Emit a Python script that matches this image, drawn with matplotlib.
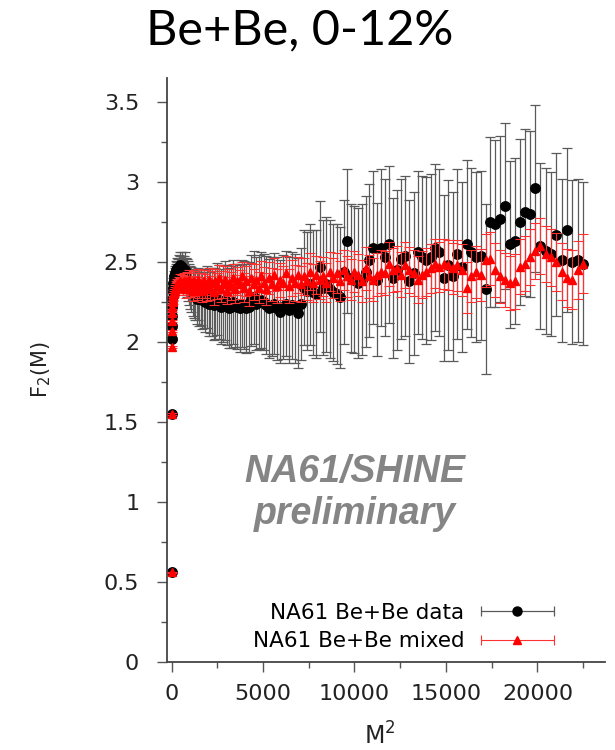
import numpy as np
import matplotlib
matplotlib.use("Agg")
import matplotlib.pyplot as plt
from matplotlib.ticker import MultipleLocator, FormatStrFormatter
from matplotlib.container import ErrorbarContainer
from matplotlib.lines import Line2D
from matplotlib.collections import LineCollection
from matplotlib.legend_handler import HandlerErrorbar

# Mass bins M = 1..150, plotted against M^2
m_bins = np.arange(1, 151)
m_squared = m_bins ** 2

# NA61 Be+Be data, F2(M)
data_f2 = [
    0.56, 1.55, 2.02, 2.10, 2.16, 2.22, 2.27, 2.31, 2.34, 2.37,
    2.39, 2.41, 2.42, 2.43, 2.44, 2.45, 2.44, 2.46, 2.45, 2.47,
    2.46, 2.48, 2.45, 2.47, 2.44, 2.43, 2.45, 2.41, 2.40, 2.38,
    2.36, 2.34, 2.33, 2.31, 2.30, 2.29, 2.27, 2.30, 2.27, 2.28,
    2.26, 2.27, 2.25, 2.28, 2.24, 2.26, 2.25, 2.23, 2.24, 2.27,
    2.25, 2.22, 2.24, 2.26, 2.23, 2.21, 2.22, 2.25, 2.23, 2.22,
    2.21, 2.24, 2.23, 2.21, 2.22, 2.26, 2.28, 2.24, 2.25, 2.26,
    2.25, 2.23, 2.21, 2.22, 2.24, 2.21, 2.19, 2.22, 2.24, 2.20,
    2.23, 2.21, 2.18, 2.24, 2.34, 2.32, 2.36, 2.31, 2.30, 2.47,
    2.34, 2.36, 2.33, 2.31, 2.30, 2.28, 2.44, 2.63, 2.40, 2.39,
    2.37, 2.39, 2.44, 2.51, 2.59, 2.39, 2.59, 2.53, 2.61, 2.40,
    2.45, 2.52, 2.54, 2.38, 2.43, 2.56, 2.53, 2.51, 2.53, 2.59,
    2.56, 2.40, 2.48, 2.41, 2.55, 2.47, 2.61, 2.56, 2.53, 2.54,
    2.33, 2.75, 2.74, 2.77, 2.85, 2.61, 2.63, 2.75, 2.81, 2.80,
    2.96, 2.60, 2.57, 2.55, 2.67, 2.51, 2.70, 2.50, 2.51, 2.49,
]
data_err = [
    0.005, 0.008, 0.010, 0.012, 0.015, 0.018, 0.020, 0.022, 0.025, 0.028,
    0.030, 0.035, 0.040, 0.045, 0.050, 0.055, 0.060, 0.065, 0.070, 0.075,
    0.080, 0.085, 0.090, 0.095, 0.100, 0.105, 0.110, 0.115, 0.120, 0.125,
    0.130, 0.135, 0.140, 0.145, 0.150, 0.155, 0.160, 0.165, 0.170, 0.175,
    0.180, 0.185, 0.190, 0.195, 0.200, 0.205, 0.210, 0.215, 0.220, 0.225,
    0.230, 0.235, 0.240, 0.245, 0.250, 0.250, 0.255, 0.260, 0.260, 0.265,
    0.270, 0.270, 0.275, 0.280, 0.280, 0.285, 0.290, 0.290, 0.295, 0.300,
    0.300, 0.305, 0.310, 0.310, 0.315, 0.320, 0.320, 0.325, 0.330, 0.330,
    0.335, 0.340, 0.345, 0.350, 0.360, 0.370, 0.380, 0.390, 0.400, 0.410,
    0.420, 0.420, 0.430, 0.430, 0.440, 0.440, 0.450, 0.450, 0.460, 0.460,
    0.470, 0.470, 0.470, 0.480, 0.480, 0.480, 0.490, 0.490, 0.490, 0.500,
    0.500, 0.500, 0.500, 0.510, 0.510, 0.510, 0.510, 0.520, 0.520, 0.520,
    0.520, 0.520, 0.530, 0.530, 0.530, 0.530, 0.530, 0.530, 0.530, 0.530,
    0.530, 0.530, 0.520, 0.520, 0.520, 0.520, 0.520, 0.520, 0.520, 0.520,
    0.520, 0.520, 0.520, 0.510, 0.510, 0.510, 0.510, 0.510, 0.510, 0.510,
]

# NA61 Be+Be mixed events, F2(M)
mixed_f2 = [
    0.56, 1.55, 1.97, 2.07, 2.13, 2.18, 2.22, 2.25, 2.27, 2.29,
    2.30, 2.31, 2.32, 2.33, 2.34, 2.35, 2.34, 2.36, 2.35, 2.37,
    2.36, 2.38, 2.35, 2.37, 2.34, 2.38, 2.36, 2.33, 2.38, 2.35,
    2.39, 2.34, 2.37, 2.32, 2.38, 2.35, 2.33, 2.39, 2.34, 2.36,
    2.32, 2.38, 2.35, 2.33, 2.39, 2.34, 2.37, 2.31, 2.38, 2.35,
    2.40, 2.33, 2.36, 2.39, 2.32, 2.37, 2.35, 2.40, 2.33, 2.38,
    2.36, 2.41, 2.34, 2.38, 2.32, 2.40, 2.36, 2.39, 2.34, 2.41,
    2.37, 2.33, 2.40, 2.36, 2.42, 2.35, 2.39, 2.37, 2.43, 2.35,
    2.40, 2.37, 2.42, 2.36, 2.41, 2.38, 2.44, 2.37, 2.42, 2.39,
    2.41, 2.37, 2.44, 2.40, 2.43, 2.38, 2.45, 2.41, 2.39, 2.44,
    2.42, 2.38, 2.46, 2.41, 2.39, 2.42, 2.44, 2.43, 2.49, 2.45,
    2.46, 2.42, 2.48, 2.45, 2.43, 2.39, 2.42, 2.44, 2.46, 2.49,
    2.47, 2.49, 2.48, 2.46, 2.48, 2.45, 2.34, 2.41, 2.44, 2.42,
    2.51, 2.52, 2.45, 2.41, 2.39, 2.37, 2.38, 2.47, 2.49, 2.53,
    2.57, 2.60, 2.55, 2.53, 2.50, 2.44, 2.40, 2.39, 2.45, 2.49,
]
mixed_err = [
    0.003, 0.004, 0.005, 0.006, 0.008, 0.010, 0.012, 0.014, 0.016, 0.018,
    0.020, 0.022, 0.024, 0.026, 0.028, 0.030, 0.032, 0.034, 0.036, 0.038,
    0.040, 0.042, 0.044, 0.046, 0.048, 0.050, 0.052, 0.054, 0.056, 0.058,
    0.060, 0.061, 0.062, 0.063, 0.064, 0.065, 0.066, 0.067, 0.068, 0.069,
    0.070, 0.071, 0.072, 0.073, 0.074, 0.075, 0.076, 0.077, 0.078, 0.079,
    0.080, 0.081, 0.082, 0.083, 0.084, 0.085, 0.086, 0.087, 0.088, 0.089,
    0.090, 0.091, 0.092, 0.093, 0.094, 0.095, 0.096, 0.097, 0.098, 0.099,
    0.100, 0.101, 0.102, 0.103, 0.104, 0.105, 0.106, 0.107, 0.108, 0.109,
    0.110, 0.111, 0.112, 0.113, 0.114, 0.115, 0.116, 0.117, 0.118, 0.119,
    0.120, 0.121, 0.122, 0.123, 0.124, 0.125, 0.126, 0.127, 0.128, 0.129,
    0.130, 0.131, 0.132, 0.133, 0.134, 0.135, 0.136, 0.137, 0.138, 0.139,
    0.140, 0.141, 0.142, 0.143, 0.144, 0.146, 0.148, 0.150, 0.152, 0.154,
    0.155, 0.156, 0.157, 0.158, 0.159, 0.160, 0.161, 0.162, 0.163, 0.164,
    0.165, 0.166, 0.167, 0.168, 0.169, 0.170, 0.171, 0.172, 0.173, 0.174,
    0.175, 0.176, 0.177, 0.178, 0.179, 0.180, 0.181, 0.182, 0.183, 0.184,
]

labels = ["NA61 Be+Be data", "NA61 Be+Be mixed"]

fig = plt.figure(figsize=(6.15, 7.5), dpi=100)
ax = fig.add_axes([167 / 615, 88 / 750, (605 - 167) / 615, (662 - 78) / 750])

ax.errorbar(m_squared, data_f2, yerr=data_err, fmt="o", color="black",
            ms=6.8, ecolor="#5a5a5a", elinewidth=0.9, capsize=3.5,
            capthick=0.9, zorder=2)
ax.errorbar(m_squared, mixed_f2, yerr=mixed_err, fmt="^", color="red",
            ms=6, ecolor="#ff3030", elinewidth=0.8, capsize=3.5,
            capthick=0.8, zorder=3)

ax.set_xlim(-246, 23690)
ax.set_ylim(0, 3.65)
ax.xaxis.set_major_locator(MultipleLocator(5000))
ax.xaxis.set_minor_locator(MultipleLocator(2500))
ax.yaxis.set_major_locator(MultipleLocator(0.5))
ax.yaxis.set_minor_locator(MultipleLocator(0.25))
ax.yaxis.set_major_formatter(FormatStrFormatter("%g"))

for side in ("top", "right"):
    ax.spines[side].set_visible(False)
for side in ("left", "bottom"):
    ax.spines[side].set_color("#444444")
    ax.spines[side].set_linewidth(1.3)

ax.tick_params(which="both", direction="out", colors="#555555",
               labelcolor="#222222", width=1)
ax.tick_params(which="major", length=7, labelsize=16)
ax.tick_params(which="minor", length=4)
ax.tick_params(axis="y", which="major", pad=13)
ax.tick_params(axis="x", which="major", pad=9)

ax.set_ylabel("F$_2$(M)", fontsize=15, color="#222222")
ax.yaxis.set_label_coords(-0.26, 0.5)
ax.set_xlabel("M$^2$", fontsize=17, color="#222222")
ax.xaxis.set_label_coords(0.486, -0.103)

ax.text(0.429, 0.289, "NA61/SHINE\npreliminary", transform=ax.transAxes,
        ha="center", va="center", fontsize=27, fontweight="bold",
        fontstyle="italic", color="#858585", family="Liberation Sans",
        linespacing=1.2)


def legend_proxy(marker, color, ecolor, ms, lw):
    point = Line2D([], [], marker=marker, color=color, ls="none", ms=ms)
    cap = Line2D([], [], marker="|", color=ecolor, ms=7, mew=lw, ls="none")
    bar = LineCollection([], colors=ecolor, linewidths=lw)
    return ErrorbarContainer((point, (cap,), (bar,)),
                             has_xerr=True, has_yerr=False)


handles = [legend_proxy("o", "black", "#5a5a5a", 6.5, 0.9),
           legend_proxy("^", "red", "#ff3030", 6, 0.8)]
ax.legend(handles, labels, loc="lower right",
          bbox_to_anchor=(0.885, 0.018), frameon=False, markerfirst=False,
          handlelength=3.45, handletextpad=0.75,
          labelspacing=0.4, borderpad=0, borderaxespad=0,
          handler_map={ErrorbarContainer: HandlerErrorbar(xerr_size=1.68)},
          prop={"size": 15.5})

fig.text(300 / 615, 1 - 30 / 750, "Be+Be, 0-12%", ha="center", va="center",
         fontsize=35, family="Lato")

fig.savefig("out.png", dpi=100)
